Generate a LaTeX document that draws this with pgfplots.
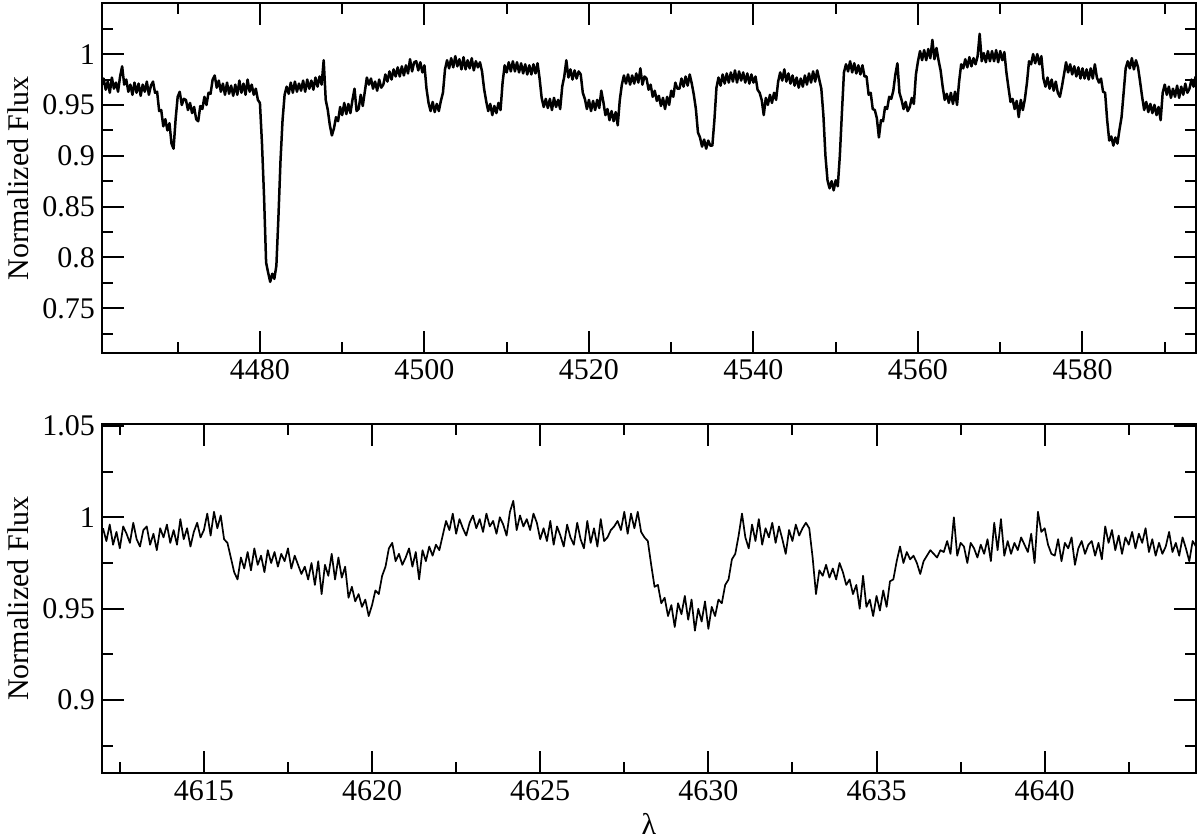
\documentclass[border=0pt]{standalone}
\usepackage{fontspec}
\setmainfont{Liberation Serif}
\usepackage{pgfplots}
\pgfplotsset{compat=1.18}
\begin{document}
\begin{tikzpicture}
\useasboundingbox (0,0) rectangle (600bp,-420bp);
\pgfplotsset{
  every axis/.append style={
    scale only axis,
    width=547bp,
    axis line style={line width=1bp},
    tick align=inside,
    xtick pos=both, ytick pos=both,
    major tick length=11bp,
    minor tick length=5.5bp,
    every tick/.style={black,line width=1bp},
    tick label style={font=\fontsize{15bp}{18bp}\selectfont},
    label style={font=\fontsize{15bp}{18bp}\selectfont},
    /pgf/number format/assume math mode=true,
    scaled ticks=false,
    xticklabel style={/pgf/number format/set thousands separator={}},
    ylabel style={at={(axis description cs:-0.0768,0.5)},anchor=center,rotate=0},
  },
}
\begin{axis}[
  at={(51bp,-176.5bp)}, anchor=south west,
  height=174.85bp,
  xmin=4460.8, xmax=4593.8, ymin=0.706, ymax=1.05,
  xtick={4480,4500,4520,4540,4560,4580},
  minor xtick={4470,4490,4510,4530,4550,4570,4590},
  ytick={0.75,0.8,0.85,0.9,0.95,1},
  minor ytick={0.725,0.775,0.825,0.875,0.925,0.975,1.025},
  ylabel={Normalized Flux},
]
\addplot[black, line width=1.25bp, line join=round] coordinates {
(4460.8,0.970)
(4461.00,0.976)(4461.25,0.965)(4461.50,0.973)(4461.75,0.962)(4462.00,0.977)(4462.25,0.966)(4462.50,0.972)(4462.75,0.963)
(4463.00,0.978)(4463.25,0.988)(4463.50,0.970)(4463.75,0.975)(4464.00,0.963)(4464.25,0.970)(4464.50,0.960)(4464.75,0.972)
(4465.00,0.962)(4465.25,0.971)(4465.50,0.959)(4465.75,0.970)(4466.00,0.963)(4466.25,0.973)(4466.50,0.960)(4466.75,0.969)
(4467.00,0.973)(4467.25,0.962)(4467.50,0.963)(4467.75,0.944)(4468.00,0.945)(4468.25,0.929)(4468.50,0.936)(4468.75,0.925)
(4469.00,0.932)(4469.25,0.912)(4469.50,0.907)(4469.75,0.936)(4470.00,0.958)(4470.25,0.963)(4470.50,0.950)(4470.75,0.956)
(4471.00,0.955)(4471.25,0.945)(4471.50,0.952)(4471.75,0.942)(4472.00,0.948)(4472.25,0.936)(4472.50,0.934)(4472.75,0.949)
(4473.00,0.946)(4473.25,0.958)(4473.50,0.950)(4473.75,0.962)(4474.00,0.961)(4474.25,0.975)(4474.50,0.979)(4474.75,0.967)
(4475.00,0.974)(4475.25,0.963)(4475.50,0.971)(4475.75,0.960)(4476.00,0.972)(4476.25,0.961)(4476.50,0.969)(4476.75,0.959)
(4477.00,0.970)(4477.25,0.960)(4477.50,0.974)(4477.75,0.962)(4478.00,0.971)(4478.25,0.960)(4478.50,0.975)(4478.75,0.963)
(4479.00,0.970)(4479.25,0.960)(4479.50,0.966)(4479.75,0.955)(4480.00,0.952)(4480.25,0.912)(4480.50,0.860)(4480.75,0.795)
(4481.00,0.785)(4481.25,0.776)(4481.50,0.784)(4481.75,0.779)(4482.00,0.792)(4482.25,0.840)(4482.50,0.895)(4482.75,0.935)
(4483.00,0.960)(4483.25,0.968)(4483.50,0.961)(4483.75,0.972)(4484.00,0.962)(4484.25,0.973)(4484.50,0.963)(4484.75,0.971)
(4485.00,0.964)(4485.25,0.974)(4485.50,0.963)(4485.75,0.975)(4486.00,0.966)(4486.25,0.974)(4486.50,0.965)(4486.75,0.977)
(4487.00,0.968)(4487.25,0.978)(4487.50,0.970)(4487.75,0.994)(4488.00,0.955)(4488.25,0.945)(4488.50,0.930)(4488.75,0.920)
(4489.00,0.927)(4489.25,0.938)(4489.50,0.934)(4489.75,0.948)(4490.00,0.940)(4490.25,0.952)(4490.50,0.941)(4490.75,0.951)
(4491.00,0.942)(4491.25,0.955)(4491.50,0.966)(4491.75,0.944)(4492.00,0.946)(4492.25,0.960)(4492.50,0.949)(4492.75,0.963)
(4493.00,0.977)(4493.25,0.970)(4493.50,0.976)(4493.75,0.966)(4494.00,0.973)(4494.25,0.964)(4494.50,0.975)(4494.75,0.967)
(4495.00,0.970)(4495.25,0.980)(4495.50,0.973)(4495.75,0.983)(4496.00,0.975)(4496.25,0.985)(4496.50,0.978)(4496.75,0.987)
(4497.00,0.978)(4497.25,0.988)(4497.50,0.979)(4497.75,0.989)(4498.00,0.981)(4498.25,0.995)(4498.50,0.983)(4498.75,0.992)
(4499.00,0.993)(4499.25,0.984)(4499.50,0.992)(4499.75,0.982)(4500.00,0.989)(4500.25,0.966)(4500.50,0.952)(4500.75,0.944)
(4501.00,0.953)(4501.25,0.943)(4501.50,0.951)(4501.75,0.944)(4502.00,0.954)(4502.25,0.962)(4502.50,0.985)(4502.75,0.994)
(4503.00,0.986)(4503.25,0.996)(4503.50,0.987)(4503.75,0.998)(4504.00,0.988)(4504.25,0.995)(4504.50,0.985)(4504.75,0.997)
(4505.00,0.985)(4505.25,0.994)(4505.50,0.986)(4505.75,0.996)(4506.00,0.984)(4506.25,0.993)(4506.50,0.987)(4506.75,0.992)
(4507.00,0.983)(4507.25,0.966)(4507.50,0.954)(4507.75,0.944)(4508.00,0.951)(4508.25,0.940)(4508.50,0.949)(4508.75,0.942)
(4509.00,0.952)(4509.25,0.945)(4509.50,0.972)(4509.75,0.989)(4510.00,0.982)(4510.25,0.992)(4510.50,0.983)(4510.75,0.993)
(4511.00,0.983)(4511.25,0.992)(4511.50,0.982)(4511.75,0.991)(4512.00,0.981)(4512.25,0.990)(4512.50,0.980)(4512.75,0.989)
(4513.00,0.980)(4513.25,0.990)(4513.50,0.981)(4513.75,0.991)(4514.00,0.976)(4514.25,0.957)(4514.50,0.948)(4514.75,0.956)
(4515.00,0.947)(4515.25,0.956)(4515.50,0.945)(4515.75,0.957)(4516.00,0.948)(4516.25,0.955)(4516.50,0.946)(4516.75,0.968)
(4517.00,0.978)(4517.25,0.994)(4517.50,0.977)(4517.75,0.985)(4518.00,0.975)(4518.25,0.984)(4518.50,0.976)(4518.75,0.983)
(4519.00,0.980)(4519.25,0.962)(4519.50,0.956)(4519.75,0.946)(4520.00,0.955)(4520.25,0.944)(4520.50,0.954)(4520.75,0.945)
(4521.00,0.955)(4521.25,0.947)(4521.50,0.964)(4521.75,0.953)(4522.00,0.940)(4522.25,0.946)(4522.50,0.935)(4522.75,0.944)
(4523.00,0.934)(4523.25,0.943)(4523.50,0.930)(4523.75,0.955)(4524.00,0.970)(4524.25,0.979)(4524.50,0.971)(4524.75,0.980)
(4525.00,0.970)(4525.25,0.979)(4525.50,0.971)(4525.75,0.981)(4526.00,0.972)(4526.25,0.986)(4526.50,0.970)(4526.75,0.978)
(4527.00,0.976)(4527.25,0.965)(4527.50,0.970)(4527.75,0.958)(4528.00,0.964)(4528.25,0.954)(4528.50,0.959)(4528.75,0.949)
(4529.00,0.957)(4529.25,0.946)(4529.50,0.958)(4529.75,0.950)(4530.00,0.964)(4530.25,0.958)(4530.50,0.972)(4530.75,0.966)
(4531.00,0.966)(4531.25,0.976)(4531.50,0.968)(4531.75,0.978)(4532.00,0.969)(4532.25,0.980)(4532.50,0.971)(4532.75,0.960)
(4533.00,0.946)(4533.25,0.923)(4533.50,0.918)(4533.75,0.909)(4534.00,0.916)(4534.25,0.907)(4534.50,0.915)(4534.75,0.910)
(4535.00,0.910)(4535.25,0.935)(4535.50,0.967)(4535.75,0.977)(4536.00,0.969)(4536.25,0.980)(4536.50,0.971)(4536.75,0.981)
(4537.00,0.972)(4537.25,0.982)(4537.50,0.973)(4537.75,0.984)(4538.00,0.972)(4538.25,0.983)(4538.50,0.974)(4538.75,0.982)
(4539.00,0.972)(4539.25,0.981)(4539.50,0.971)(4539.75,0.980)(4540.00,0.972)(4540.25,0.978)(4540.50,0.965)(4540.75,0.962)
(4541.00,0.955)(4541.25,0.940)(4541.50,0.957)(4541.75,0.950)(4542.00,0.960)(4542.25,0.952)(4542.50,0.962)(4542.75,0.955)
(4543.00,0.973)(4543.25,0.982)(4543.50,0.974)(4543.75,0.985)(4544.00,0.973)(4544.25,0.981)(4544.50,0.971)(4544.75,0.979)
(4545.00,0.969)(4545.25,0.977)(4545.50,0.967)(4545.75,0.976)(4546.00,0.968)(4546.25,0.979)(4546.50,0.970)(4546.75,0.981)
(4547.00,0.972)(4547.25,0.983)(4547.50,0.973)(4547.75,0.984)(4548.00,0.975)(4548.25,0.966)(4548.50,0.940)(4548.75,0.900)
(4549.00,0.876)(4549.25,0.868)(4549.50,0.875)(4549.75,0.866)(4550.00,0.876)(4550.25,0.870)(4550.50,0.900)(4550.75,0.942)
(4551.00,0.982)(4551.25,0.990)(4551.50,0.983)(4551.75,0.993)(4552.00,0.982)(4552.25,0.991)(4552.50,0.981)(4552.75,0.989)
(4553.00,0.980)(4553.25,0.989)(4553.50,0.978)(4553.75,0.978)(4554.00,0.960)(4554.25,0.962)(4554.50,0.946)(4554.75,0.945)
(4555.00,0.937)(4555.25,0.918)(4555.50,0.935)(4555.75,0.934)(4556.00,0.948)(4556.25,0.946)(4556.50,0.958)(4556.75,0.956)
(4557.00,0.964)(4557.25,0.980)(4557.50,0.991)(4557.75,0.962)(4558.00,0.955)(4558.25,0.946)(4558.50,0.953)(4558.75,0.944)
(4559.00,0.948)(4559.25,0.957)(4559.50,0.951)(4559.75,0.980)(4560.00,0.993)(4560.25,1.003)(4560.50,0.994)(4560.75,1.004)
(4561.00,0.994)(4561.25,1.005)(4561.50,0.996)(4561.75,1.014)(4562.00,0.995)(4562.25,1.006)(4562.50,0.994)(4562.75,0.984)
(4563.00,0.968)(4563.25,0.955)(4563.50,0.961)(4563.75,0.952)(4564.00,0.962)(4564.25,0.951)(4564.50,0.963)(4564.75,0.950)
(4565.00,0.973)(4565.25,0.990)(4565.50,0.986)(4565.75,0.995)(4566.00,0.987)(4566.25,0.997)(4566.50,0.988)(4566.75,0.996)
(4567.00,0.990)(4567.25,0.998)(4567.50,1.020)(4567.75,0.993)(4568.00,1.001)(4568.25,0.992)(4568.50,1.003)(4568.75,0.993)
(4569.00,1.003)(4569.25,0.993)(4569.50,1.004)(4569.75,0.992)(4570.00,1.003)(4570.25,0.994)(4570.50,1.002)(4570.75,0.982)
(4571.00,0.967)(4571.25,0.953)(4571.50,0.956)(4571.75,0.946)(4572.00,0.954)(4572.25,0.938)(4572.50,0.955)(4572.75,0.945)
(4573.00,0.956)(4573.25,0.972)(4573.50,0.993)(4573.75,0.990)(4574.00,1.000)(4574.25,0.991)(4574.50,1.000)(4574.75,0.990)
(4575.00,0.998)(4575.25,0.976)(4575.50,0.968)(4575.75,0.977)(4576.00,0.966)(4576.25,0.975)(4576.50,0.964)(4576.75,0.973)
(4577.00,0.962)(4577.25,0.958)(4577.50,0.968)(4577.75,0.980)(4578.00,0.992)(4578.25,0.982)(4578.50,0.990)(4578.75,0.980)
(4579.00,0.988)(4579.25,0.978)(4579.50,0.987)(4579.75,0.976)(4580.00,0.986)(4580.25,0.976)(4580.50,0.985)(4580.75,0.975)
(4581.00,0.986)(4581.25,0.976)(4581.50,0.990)(4581.75,0.977)(4582.00,0.972)(4582.25,0.976)(4582.50,0.963)(4582.75,0.962)
(4583.00,0.935)(4583.25,0.915)(4583.50,0.919)(4583.75,0.910)(4584.00,0.918)(4584.25,0.912)(4584.50,0.926)(4584.75,0.938)
(4585.00,0.962)(4585.25,0.986)(4585.50,0.993)(4585.75,0.986)(4586.00,0.996)(4586.25,0.985)(4586.50,0.994)(4586.75,0.987)
(4587.00,0.973)(4587.25,0.958)(4587.50,0.945)(4587.75,0.953)(4588.00,0.943)(4588.25,0.951)(4588.50,0.942)(4588.75,0.950)
(4589.00,0.940)(4589.25,0.948)(4589.50,0.935)(4589.75,0.962)(4590.00,0.970)(4590.25,0.960)(4590.50,0.968)(4590.75,0.957)
(4591.00,0.966)(4591.25,0.958)(4591.50,0.969)(4591.75,0.957)(4592.00,0.968)(4592.25,0.960)(4592.50,0.971)(4592.75,0.962)
(4593.00,0.966)(4593.25,0.975)(4593.50,0.968)(4593.75,0.978)
};
\end{axis}
\begin{axis}[
  at={(51bp,-386.65bp)}, anchor=south west,
  height=174.65bp,
  xmin=4611.97, xmax=4644.5, ymin=0.86, ymax=1.051,
  xtick={4615,4620,4625,4630,4635,4640},
  minor xtick={4612.5,4617.5,4622.5,4627.5,4632.5,4637.5,4642.5},
  ytick={0.9,0.95,1,1.05},
  minor ytick={0.875,0.925,0.975,1.025},
  ylabel={Normalized Flux},
  xlabel={λ},
  xlabel style={at={(axis description cs:0.5,-0.145)},anchor=center},
]
\addplot[black, line width=0.85bp, line join=round] coordinates {
(4612.0,0.994)(4612.1,0.987)(4612.2,0.996)(4612.3,0.985)(4612.4,0.992)(4612.5,0.983)(4612.6,0.995)(4612.7,0.991)(4612.8,0.986)(4612.9,0.997)
(4613.0,0.988)(4613.1,0.984)(4613.2,0.993)(4613.3,0.995)(4613.4,0.985)(4613.5,0.991)(4613.6,0.982)(4613.7,0.994)(4613.8,0.989)(4613.9,0.996)
(4614.0,0.986)(4614.1,0.993)(4614.2,0.985)(4614.3,0.999)(4614.4,0.988)(4614.5,0.994)(4614.6,0.984)(4614.7,0.992)(4614.8,0.997)(4614.9,0.989)
(4615.0,0.993)(4615.1,1.002)(4615.2,0.990)(4615.3,1.003)(4615.4,0.994)(4615.5,1.001)(4615.6,0.988)(4615.7,0.986)(4615.8,0.978)(4615.9,0.970)
(4616.0,0.966)(4616.1,0.978)(4616.2,0.972)(4616.3,0.981)(4616.4,0.971)(4616.5,0.983)(4616.6,0.974)(4616.7,0.979)(4616.8,0.970)(4616.9,0.982)
(4617.0,0.975)(4617.1,0.981)(4617.2,0.973)(4617.3,0.980)(4617.4,0.976)(4617.5,0.983)(4617.6,0.972)(4617.7,0.979)(4617.8,0.974)(4617.9,0.969)
(4618.0,0.973)(4618.1,0.966)(4618.2,0.975)(4618.3,0.963)(4618.4,0.976)(4618.5,0.958)(4618.6,0.974)(4618.7,0.968)(4618.8,0.980)(4618.9,0.966)
(4619.0,0.978)(4619.1,0.967)(4619.2,0.973)(4619.3,0.956)(4619.4,0.962)(4619.5,0.954)(4619.6,0.958)(4619.7,0.951)(4619.8,0.955)(4619.9,0.946)
(4620.0,0.952)(4620.1,0.960)(4620.2,0.958)(4620.3,0.968)(4620.4,0.973)(4620.5,0.983)(4620.6,0.986)(4620.7,0.976)(4620.8,0.980)(4620.9,0.974)
(4621.0,0.978)(4621.1,0.983)(4621.2,0.973)(4621.3,0.981)(4621.4,0.966)(4621.5,0.982)(4621.6,0.976)(4621.7,0.984)(4621.8,0.979)(4621.9,0.985)
(4622.0,0.982)(4622.1,0.990)(4622.2,0.998)(4622.3,0.993)(4622.4,1.002)(4622.5,0.991)(4622.6,0.999)(4622.7,0.994)(4622.8,0.990)(4622.9,0.997)
(4623.0,1.001)(4623.1,0.994)(4623.2,0.999)(4623.3,0.992)(4623.4,1.002)(4623.5,0.995)(4623.6,0.998)(4623.7,0.991)(4623.8,1.000)(4623.9,0.996)
(4624.0,0.990)(4624.1,1.003)(4624.2,1.009)(4624.3,0.993)(4624.4,1.001)(4624.5,0.995)(4624.6,0.999)(4624.7,0.993)(4624.8,1.002)(4624.9,0.997)
(4625.0,0.988)(4625.1,0.994)(4625.2,0.987)(4625.3,0.998)(4625.4,0.985)(4625.5,0.995)(4625.6,0.990)(4625.7,0.984)(4625.8,0.996)(4625.9,0.989)
(4626.0,0.985)(4626.1,0.997)(4626.2,0.988)(4626.3,0.983)(4626.4,0.998)(4626.5,0.986)(4626.6,0.994)(4626.7,0.984)(4626.8,0.999)(4626.9,0.987)
(4627.0,0.989)(4627.1,0.993)(4627.2,0.995)(4627.3,0.998)(4627.4,0.993)(4627.5,1.003)(4627.6,0.991)(4627.7,1.002)(4627.8,0.994)(4627.9,1.003)
(4628.0,0.992)(4628.1,0.989)(4628.2,0.987)(4628.3,0.974)(4628.4,0.962)(4628.5,0.963)(4628.6,0.953)(4628.7,0.956)(4628.8,0.946)(4628.9,0.952)
(4629.0,0.940)(4629.1,0.953)(4629.2,0.947)(4629.3,0.957)(4629.4,0.944)(4629.5,0.955)(4629.6,0.938)(4629.7,0.950)(4629.8,0.943)(4629.9,0.954)
(4630.0,0.939)(4630.1,0.951)(4630.2,0.946)(4630.3,0.955)(4630.4,0.953)(4630.5,0.963)(4630.6,0.966)(4630.7,0.977)(4630.8,0.980)(4630.9,0.990)
(4631.0,1.002)(4631.1,0.989)(4631.2,0.983)(4631.3,0.996)(4631.4,0.987)(4631.5,0.999)(4631.6,0.985)(4631.7,0.994)(4631.8,0.989)(4631.9,0.997)
(4632.0,0.986)(4632.1,0.995)(4632.2,0.988)(4632.3,0.980)(4632.4,0.993)(4632.5,0.987)(4632.6,0.996)(4632.7,0.990)(4632.8,0.994)(4632.9,0.997)
(4633.0,0.994)(4633.1,0.978)(4633.2,0.958)(4633.3,0.971)(4633.4,0.968)(4633.5,0.974)(4633.6,0.967)(4633.7,0.972)(4633.8,0.966)(4633.9,0.975)
(4634.0,0.970)(4634.1,0.963)(4634.2,0.966)(4634.3,0.958)(4634.4,0.963)(4634.5,0.950)(4634.6,0.968)(4634.7,0.951)(4634.8,0.955)(4634.9,0.946)
(4635.0,0.957)(4635.1,0.949)(4635.2,0.960)(4635.3,0.951)(4635.4,0.965)(4635.5,0.966)(4635.6,0.976)(4635.7,0.984)(4635.8,0.975)(4635.9,0.981)
(4636.0,0.977)(4636.1,0.979)(4636.2,0.975)(4636.3,0.969)(4636.4,0.976)(4636.5,0.979)(4636.6,0.982)(4636.7,0.980)(4636.8,0.978)(4636.9,0.982)
(4637.0,0.981)(4637.1,0.987)(4637.2,0.980)(4637.3,1.000)(4637.4,0.979)(4637.5,0.986)(4637.6,0.984)(4637.7,0.975)(4637.8,0.986)(4637.9,0.983)
(4638.0,0.978)(4638.1,0.985)(4638.2,0.980)(4638.3,0.988)(4638.4,0.976)(4638.5,0.997)(4638.6,0.982)(4638.7,0.999)(4638.8,0.979)(4638.9,0.987)
(4639.0,0.980)(4639.1,0.986)(4639.2,0.982)(4639.3,0.989)(4639.4,0.985)(4639.5,0.981)(4639.6,0.991)(4639.7,0.975)(4639.8,1.003)(4639.9,0.992)
(4640.0,0.994)(4640.1,0.985)(4640.2,0.980)(4640.3,0.979)(4640.4,0.988)(4640.5,0.976)(4640.6,0.986)(4640.7,0.983)(4640.8,0.989)(4640.9,0.974)
(4641.0,0.983)(4641.1,0.987)(4641.2,0.980)(4641.3,0.985)(4641.4,0.987)(4641.5,0.979)(4641.6,0.986)(4641.7,0.977)(4641.8,0.995)(4641.9,0.986)
(4642.0,0.993)(4642.1,0.982)(4642.2,0.990)(4642.3,0.980)(4642.4,0.989)(4642.5,0.985)(4642.6,0.992)(4642.7,0.983)(4642.8,0.991)(4642.9,0.986)
(4643.0,0.994)(4643.1,0.981)(4643.2,0.988)(4643.3,0.979)(4643.4,0.986)(4643.5,0.980)(4643.6,0.984)(4643.7,0.992)(4643.8,0.981)(4643.9,0.986)
(4644.0,0.979)(4644.1,0.989)(4644.2,0.983)(4644.3,0.976)(4644.4,0.987)(4644.5,0.984)
};
\end{axis}
\end{tikzpicture}
\end{document}
